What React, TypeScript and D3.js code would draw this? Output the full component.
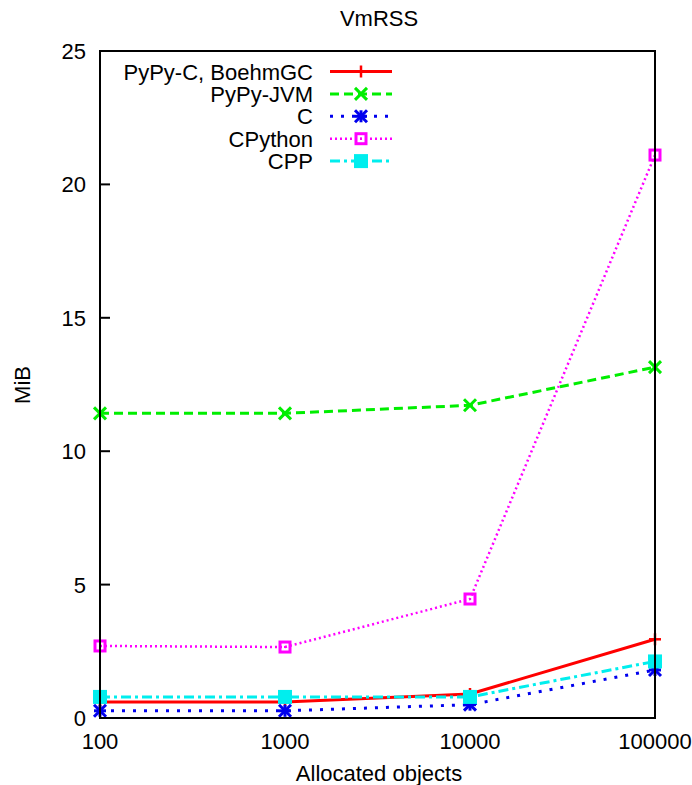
import React from "react";
import * as d3 from "d3";

const objects = [100, 1000, 10000, 100000];
const pypyC = [0.6, 0.6, 0.9, 2.95];
const pypyJVM = [11.42, 11.42, 11.72, 13.15];
const cVals = [0.27, 0.27, 0.5, 1.8];
const cpython = [2.7, 2.66, 4.46, 21.1];
const cpp = [0.79, 0.79, 0.79, 2.12];
const yTicks = [0, 5, 10, 15, 20, 25];
const xTicks = [100, 1000, 10000, 100000];
const seriesNames = ["PyPy-C, BoehmGC", "PyPy-JVM", "C", "CPython", "CPP"];

const W = 692;
const H = 785;
const m = { left: 100, right: 655, top: 51, bottom: 718 };
const FONT = "'Liberation Sans', Arial, Helvetica, sans-serif";
const FS = 22;

type Style = { color: string; dash: string; width: number; marker: string };
const styles: Style[] = [
  { color: "#ff0000", dash: "none", width: 3, marker: "plus" },
  { color: "#00ee00", dash: "9,5", width: 3, marker: "cross" },
  { color: "#0000ee", dash: "3,8", width: 3, marker: "star" },
  { color: "#ff00ff", dash: "2,3", width: 2.5, marker: "box" },
  { color: "#00eeee", dash: "10,4,3,4", width: 3, marker: "fbox" },
];

function Marker({ x, y, s }: { x: number; y: number; s: Style }) {
  const r = 6;
  const c = s.color;
  switch (s.marker) {
    case "plus":
      return (
        <g stroke={c} strokeWidth={2.5}>
          <line x1={x - r} y1={y} x2={x + r} y2={y} />
          <line x1={x} y1={y - r} x2={x} y2={y + r} />
        </g>
      );
    case "cross":
      return (
        <g stroke={c} strokeWidth={3}>
          <line x1={x - r} y1={y - r} x2={x + r} y2={y + r} />
          <line x1={x - r} y1={y + r} x2={x + r} y2={y - r} />
        </g>
      );
    case "star":
      return (
        <g stroke={c} strokeWidth={3}>
          <line x1={x - r} y1={y} x2={x + r} y2={y} />
          <line x1={x} y1={y - r} x2={x} y2={y + r} />
          <line x1={x - r} y1={y - r} x2={x + r} y2={y + r} />
          <line x1={x - r} y1={y + r} x2={x + r} y2={y - r} />
        </g>
      );
    case "box":
      return (
        <g>
          <rect x={x - 5} y={y - 5} width={10} height={10} fill="none" stroke={c} strokeWidth={3} />
          <rect x={x - 1} y={y - 1} width={2} height={2} fill={c} />
        </g>
      );
    default:
      return <rect x={x - 7} y={y - 7} width={14} height={14} fill={c} />;
  }
}

export default function App() {
  const x = d3.scaleLog().domain([100, 100000]).range([m.left, m.right]);
  const y = d3.scaleLinear().domain([0, 25]).range([m.bottom, m.top]);
  const all = [pypyC, pypyJVM, cVals, cpython, cpp];
  const line = d3
    .line<number>()
    .x((_, i) => x(objects[i]))
    .y((d) => y(d));

  const legX1 = 330;
  const legX2 = 392;
  const legY0 = 71.5;
  const legDY = 22.4;

  return (
    <svg width={W} height={H} style={{ display: "block", position: "absolute", left: 0, top: 0 }} fontFamily={FONT}>
      <rect width={W} height={H} fill="#fff" />
      <text x={379} y={26} fontSize={FS} textAnchor="middle">VmRSS</text>
      {yTicks.map((t) => (
        <g key={t}>
          <line x1={m.left} x2={m.left + 10} y1={y(t)} y2={y(t)} stroke="#000" strokeWidth={2} />
          <text x={86} y={y(t) + 8} fontSize={FS} textAnchor="end">{t}</text>
        </g>
      ))}
      {xTicks.map((t) => (
        <text key={t} x={x(t)} y={749} fontSize={FS} textAnchor="middle">{t}</text>
      ))}
      <text x={379} y={781} fontSize={FS} textAnchor="middle">Allocated objects</text>
      <text transform="translate(30,385) rotate(-90)" fontSize={FS} textAnchor="middle">MiB</text>
      {all.map((vals, si) => {
        const s = styles[si];
        return (
          <g key={si}>
            <path d={line(vals) || ""} fill="none" stroke={s.color} strokeWidth={s.width} strokeDasharray={s.dash} />
            {vals.map((v, i) => (
              <Marker key={i} x={x(objects[i])} y={y(v)} s={s} />
            ))}
          </g>
        );
      })}
      {seriesNames.map((n, i) => {
        const s = styles[i];
        const ly = legY0 + i * legDY;
        return (
          <g key={n}>
            <text x={313} y={ly + 8} fontSize={FS} textAnchor="end">{n}</text>
            <line x1={legX1} x2={legX2} y1={ly} y2={ly} stroke={s.color} strokeWidth={s.width} strokeDasharray={s.dash} />
            <Marker x={(legX1 + legX2) / 2} y={ly} s={s} />
          </g>
        );
      })}
      <rect x={m.left} y={m.top} width={m.right - m.left} height={m.bottom - m.top} fill="none" stroke="#000" strokeWidth={2} />
    </svg>
  );
}
